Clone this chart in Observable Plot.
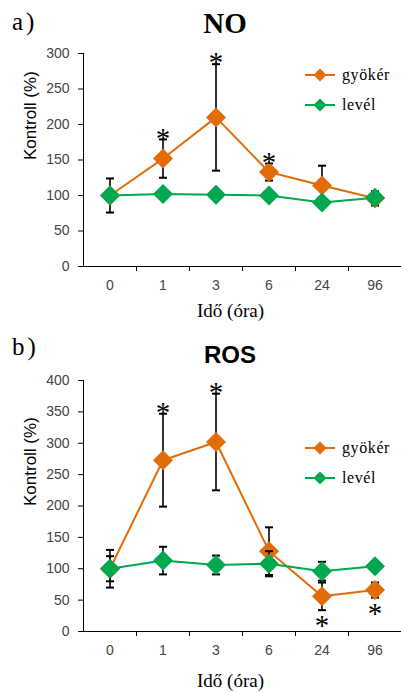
<!DOCTYPE html>
<html>
<head>
<meta charset="utf-8">
<script src="https://cdn.jsdelivr.net/npm/d3@7"></script>
<script src="https://cdn.jsdelivr.net/npm/@observablehq/plot@0.6"></script>
<style>
  html, body { margin: 0; padding: 0; background: #fff; }
  #root { position: relative; width: 401px; height: 693px; overflow: hidden; background: #fff; }
  .abs { position: absolute; white-space: nowrap; line-height: 1; }
  .serif { font-family: "Liberation Serif", "Times New Roman", serif; }
  .sans { font-family: "Liberation Sans", Arial, sans-serif; }
  .legend-row { position: absolute; display: flex; align-items: center; height: 20px; }
  .legend-row span { font-family: "Liberation Serif", "Times New Roman", serif; font-size: 16px; letter-spacing: 0.6px; margin-left: 6px; }
</style>
</head>
<body>
<div id="root"></div>
<script>
// ---------- data ----------
const times = ["0", "1", "3", "6", "24", "96"];
const seriesNames = ["gyökér", "levél"];
const colors = ["#E36C0A", "#00A84F"];

// Panel a) NO
const noRoot    = [100, 152, 210, 133, 114, 96];
const noRootErr = [24, 27, 75, 12, 28, 10];
const noLeaf    = [100, 102, 101, 100, 90, 97];
const noLeafErr = [null, null, null, null, null, null];
const noSig     = [null, "above", "above", "above", null, null];
const noYTicks  = [0, 50, 100, 150, 200, 250, 300];

// Panel b) ROS
const rosRoot    = [100, 273, 302, 128, 56, 66];
const rosRootErr = [30, 74, 77, 38, 22, 12];
const rosLeaf    = [100, 113, 106, 108, 96, 104];
const rosLeafErr = [20, 22, 15, 20, 15, null];
const rosSig     = [null, "above", "above", null, "below", "below"];
const rosYTicks  = [0, 50, 100, 150, 200, 250, 300, 350, 400];

const yLabel = "Kontroll (%)";
const xLabel = "Idő (óra)";

// ---------- helpers ----------
const SANS = "'Liberation Sans', Arial, sans-serif";
const SERIF = "'Liberation Serif', 'Times New Roman', serif";

const capSymbol = {
  draw(context, size) {
    const r = Math.sqrt(size / Math.PI);
    context.moveTo(-r, 0);
    context.lineTo(r, 0);
  }
};

function rows(root, rootErr, leaf, leafErr, sig) {
  return times.map((t, i) => ({
    i, t,
    root: root[i], rootErr: rootErr[i],
    leaf: leaf[i], leafErr: leafErr[i],
    sig: sig[i]
  }));
}

function panel({data, yTicks, height, marginTop, marginBottom, xLabelDy}) {
  const yMax = yTicks[yTicks.length - 1];
  const idx = times.map((_, i) => i);
  const bounds = times.map((_, i) => i + 0.5);
  const x0 = -0.5, x1 = times.length - 0.5;
  const rootE = data.filter(d => d.rootErr != null);
  const leafE = data.filter(d => d.leafErr != null);
  const sigAbove = data.filter(d => d.sig === "above");
  const sigBelow = data.filter(d => d.sig === "below");
  return Plot.plot({
    width: 401,
    height,
    marginTop, marginBottom,
    marginLeft: 83, marginRight: 0,
    x: {type: "linear", domain: [x0, x1], axis: null},
    y: {domain: [0, yMax], axis: null},
    style: {background: "transparent", overflow: "visible", fontFamily: SANS},
    marks: [
      Plot.ruleY([0], {stroke: "#000", strokeWidth: 1}),
      Plot.ruleX([x0], {y1: 0, y2: yMax, stroke: "#000", strokeWidth: 1}),
      Plot.axisY(yTicks, {tickSize: 5, tickPadding: 9, fontSize: 14, fill: "#444", stroke: "#000", label: null, fontFamily: SANS}),
      Plot.axisX(idx, {tickSize: 0, tickPadding: 14, fontSize: 14, fill: "#444", label: null, tickFormat: i => times[i], fontFamily: SANS}),
      Plot.axisX(bounds, {tickSize: 5, tickFormat: () => "", label: null, stroke: "#000"}),
      Plot.text([yLabel], {frameAnchor: "left", rotate: -90, dx: -53, fontSize: 17, fontFamily: SANS, fill: "#000"}),
      Plot.text([xLabel], {frameAnchor: "bottom", lineAnchor: "middle", dy: xLabelDy, dx: -12, fontSize: 19, fontFamily: SERIF, fill: "#000"}),
      // root series
      Plot.line(data, {x: "i", y: "root", stroke: colors[0], strokeWidth: 2}),
      Plot.ruleX(rootE, {x: "i", y1: d => d.root - d.rootErr, y2: d => d.root + d.rootErr, stroke: "#000", strokeWidth: 1.6}),
      Plot.dot(rootE, {x: "i", y: d => d.root + d.rootErr, symbol: capSymbol, r: 4, stroke: "#000", fill: "none", strokeWidth: 2}),
      Plot.dot(rootE, {x: "i", y: d => d.root - d.rootErr, symbol: capSymbol, r: 4, stroke: "#000", fill: "none", strokeWidth: 2}),
      Plot.dot(data, {x: "i", y: "root", symbol: "diamond2", r: 9, fill: colors[0], stroke: null}),
      // leaf series
      Plot.line(data, {x: "i", y: "leaf", stroke: colors[1], strokeWidth: 2}),
      Plot.ruleX(leafE, {x: "i", y1: d => d.leaf - d.leafErr, y2: d => d.leaf + d.leafErr, stroke: "#000", strokeWidth: 1.6}),
      Plot.dot(leafE, {x: "i", y: d => d.leaf + d.leafErr, symbol: capSymbol, r: 4, stroke: "#000", fill: "none", strokeWidth: 2}),
      Plot.dot(leafE, {x: "i", y: d => d.leaf - d.leafErr, symbol: capSymbol, r: 4, stroke: "#000", fill: "none", strokeWidth: 2}),
      Plot.dot(data, {x: "i", y: "leaf", symbol: "diamond2", r: 9, fill: colors[1], stroke: null}),
      // significance asterisks
      Plot.text(sigAbove, {x: "i", y: d => d.root + d.rootErr, text: () => "*", dy: -1, fontSize: 29, fontFamily: SERIF, fill: "#000", lineAnchor: "middle"}),
      Plot.text(sigBelow, {x: "i", y: d => d.root - d.rootErr, text: () => "*", dy: 16, fontSize: 29, fontFamily: SERIF, fill: "#000", lineAnchor: "middle"}),
    ]
  });
}

const root = document.getElementById("root");

function place(el, top) {
  el.style.position = "absolute";
  el.style.left = "0px";
  el.style.top = top + "px";
  el.style.display = "block";
  root.appendChild(el);
}

function addText(txt, cls, left, top, size, extra) {
  const d = document.createElement("div");
  d.className = "abs " + cls;
  d.textContent = txt;
  d.style.left = left + "px";
  d.style.top = top + "px";
  d.style.fontSize = size + "px";
  if (extra) Object.assign(d.style, extra);
  root.appendChild(d);
  return d;
}

function addLegend(top) {
  seriesNames.forEach((name, k) => {
    const row = document.createElement("div");
    row.className = "legend-row";
    row.style.left = "304px";
    row.style.top = (top + k * 30 - 10) + "px";
    row.innerHTML = `<svg width="32" height="20"><line x1="1" y1="10" x2="31" y2="10" stroke="${colors[k]}" stroke-width="2"/><path d="M16,3.5L22.5,10L16,16.5L9.5,10Z" fill="${colors[k]}"/></svg><span>${name}</span>`;
    root.appendChild(row);
  });
}

const aData = rows(noRoot, noRootErr, noLeaf, noLeafErr, noSig);
const bData = rows(rosRoot, rosRootErr, rosLeaf, rosLeafErr, rosSig);

place(panel({data: aData, yTicks: noYTicks, height: 330, marginTop: 53, marginBottom: 64, xLabelDy: 44}), 0);
place(panel({data: bData, yTicks: rosYTicks, height: 363, marginTop: 50, marginBottom: 62, xLabelDy: 49}), 330);

addText("a)", "serif", 12, 9, 25, {letterSpacing: "3px"});
addText("NO", "serif", 0, 9, 29, {fontWeight: "bold", width: "450px", textAlign: "center"});
addText("b)", "serif", 12, 334, 25, {letterSpacing: "3px"});
addText("ROS", "sans", 0, 343, 24, {fontWeight: "bold", width: "460px", textAlign: "center"});
addLegend(75);
addLegend(448);
</script>
</body>
</html>
